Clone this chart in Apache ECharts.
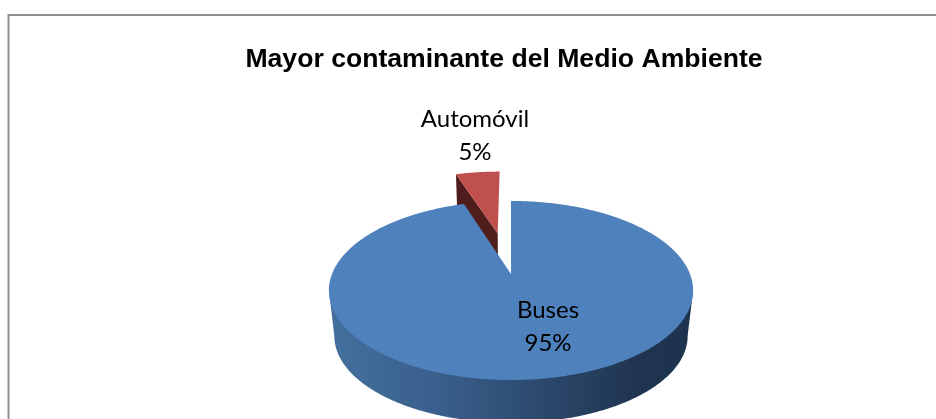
<!DOCTYPE html>
<html lang="es">
<head>
<meta charset="utf-8">
<title>Mayor contaminante del Medio Ambiente</title>
<style>
  html, body { margin: 0; padding: 0; background: #fff; }
  #chart { width: 936px; height: 419px; }
</style>
<script src="https://cdn.jsdelivr.net/npm/echarts@6/dist/echarts.min.js"></script>
</head>
<body>
<div id="chart"></div>
<script>
// Chart values
const chartTitle = 'Mayor contaminante del Medio Ambiente';
const categories = ['Buses', 'Automóvil'];
const values = [95, 5];

// Slice colours: top face, wall
const topColors = ['#4f81bd', '#c0504d'];
const redWall = '#4f1e1c';
const blueWallStops = [
  { offset: 0, color: '#44709e' },
  { offset: 0.3, color: '#3a5f8c' },
  { offset: 0.62, color: '#2a4669' },
  { offset: 0.85, color: '#1f344f' },
  { offset: 1, color: '#1e334e' }
];

// Perspective disc: a unit circle projected on to the page
const apexX = 511, apexY = 274;
const scaleX = 179, scaleY = 86.5, tilt = -0.184;
const depth = 46, depthShrink = 0.03;
const explodeDistance = 0.52;
const labelAnchors = [[548, 327], [475, 136]];

function project(u, v, z) {
  const s = (1 - depthShrink * z) / (1 + tilt * v);
  return [apexX + scaleX * u * s, apexY + depth * z + scaleY * v * s];
}
// Point on the rim at a clockwise angle from 12 o'clock, pushed out by an offset
function rim(deg, r, z, off) {
  const a = deg * Math.PI / 180;
  return project(off[0] + r * Math.sin(a), off[1] - r * Math.cos(a), z);
}
function arc(from, to, z, off) {
  const n = Math.max(2, Math.ceil(Math.abs(to - from) * 2));
  const pts = [];
  for (let i = 0; i <= n; i++) pts.push(rim(from + (to - from) * i / n, 1, z, off));
  return pts;
}

const total = values.reduce((a, b) => a + b, 0);
const spans = [];
values.reduce((start, v) => {
  const end = start + v / total * 360;
  spans.push([start, end]);
  return end;
}, 0);

// Rim angle where the projected disc is widest on the right-hand side
const widestAngle = Math.acos(tilt) * 180 / Math.PI;

function renderSlice(params, api) {
  const i = params.dataIndex;
  const [start, end] = spans[i];
  const exploded = i === 1;
  const mid = (start + end) / 2 * Math.PI / 180;
  const off = exploded ? [explodeDistance * Math.sin(mid), -explodeDistance * Math.cos(mid)] : [0, 0];
  const children = [];

  if (exploded) {
    // Cut face of the pulled-out slice, partly hidden by the larger slice
    children.push({
      type: 'polygon', z2: 1,
      shape: { points: [rim(start, 1, 0, off), rim(start, 0, 0, off), rim(start, 0, 1, off), rim(start, 1, 1, off)] },
      style: { fill: redWall }
    });
  } else {
    // Front wall of the disc: lower rim between the widest points, closed across the top face
    const wall = arc(widestAngle, 360 - widestAngle, 1, off);
    wall.push(rim(360 - widestAngle, 1, 0, off), rim(widestAngle, 1, 0, off));
    children.push({
      type: 'polygon', z2: 2,
      shape: { points: wall },
      style: { fill: new echarts.graphic.LinearGradient(0, 0, 1, 0, blueWallStops) }
    });
  }

  const top = arc(start, end, 0, off);
  top.push(rim(end, 0, 0, off));
  children.push({
    type: 'polygon', z2: exploded ? 3 : 4,
    shape: { points: top },
    style: { fill: topColors[i] }
  });

  children.push({
    type: 'text', z2: 5,
    x: labelAnchors[i][0], y: labelAnchors[i][1],
    style: {
      text: categories[i] + '\n' + api.value(0) + '%',
      fill: '#000',
      font: '24px Lato',
      lineHeight: 33,
      align: 'center',
      verticalAlign: 'middle'
    }
  });
  return { type: 'group', children };
}

const chart = echarts.init(document.getElementById('chart'), null, { renderer: 'canvas' });
chart.setOption({
  backgroundColor: '#fff',
  animation: false,
  title: {
    text: chartTitle,
    left: 499,
    top: 41,
    textAlign: 'center',
    textStyle: { fontFamily: 'Liberation Sans', fontWeight: 'bold', fontSize: 26.6, color: '#000' }
  },
  // Chart area border: top and left edges show inside the frame
  graphic: [
    { type: 'line', shape: { x1: 8.5, y1: 15, x2: 936, y2: 15 }, style: { stroke: '#8f8f8f', lineWidth: 2 } },
    { type: 'line', shape: { x1: 8.5, y1: 14, x2: 8.5, y2: 419 }, style: { stroke: '#8f8f8f', lineWidth: 2 } }
  ],
  series: [{
    type: 'custom',
    coordinateSystem: 'none',
    silent: true,
    renderItem: renderSlice,
    data: categories.map((name, i) => ({ name, value: [values[i]] }))
  }]
});
</script>
</body>
</html>
